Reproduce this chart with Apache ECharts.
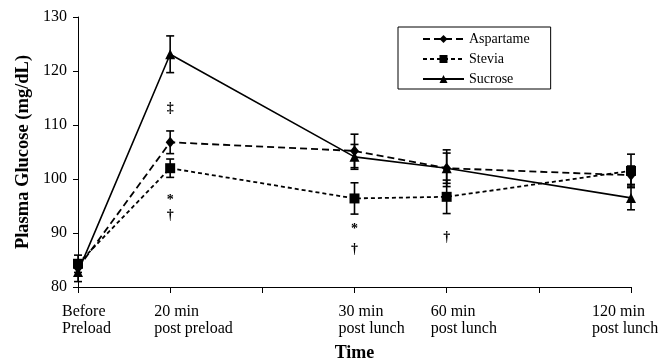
<!DOCTYPE html>
<html>
<head>
<meta charset="utf-8">
<script src="https://cdn.jsdelivr.net/npm/echarts@6/dist/echarts.min.js"></script>
<style>html,body{margin:0;padding:0;background:#fff}#c{width:670px;height:363px}</style>
</head>
<body>
<div id="c"></div>
<script>
const categories = ['Before\nPreload', '20 min\npost preload', '', '30 min\npost lunch', '60 min\npost lunch', '', '120 min\npost lunch'];
const timeIndex = [0, 1, 3, 4, 6];
const aspartame = [83.5, 106.8, 105.2, 102.0, 100.7];
const aspartameErr = [1.5, 2.1, 3.1, 3.4, 1.7];
const stevia = [84.3, 102.0, 96.4, 96.7, 101.5];
const steviaErr = [1.6, 1.7, 2.9, 3.1, 3.1];
const sucrose = [82.8, 123.1, 104.1, 102.0, 96.5];
const sucroseErr = [1.8, 3.4, 2.3, 2.8, 2.2];
const yTicks = [80, 90, 100, 110, 120, 130];
const annotIndex = [1, 1, 1, 3, 3, 4];
const annotValue = [113.1, 96.1, 93.3, 90.7, 86.9, 89.1];
const annotText = ['‡', '*', '†', '*', '†', '†'];

const FONT = '"Liberation Serif", "Times New Roman", serif';
const pts = vals => vals.map((v, i) => [timeIndex[i], v]);
const errs = (vals, e) => vals.map((v, i) => [timeIndex[i], v - e[i], v + e[i]]);

function errSeries(name, vals, e) {
  return {
    name: name + ' err', type: 'custom', z: 3, silent: true,
    data: errs(vals, e),
    renderItem: function (params, api) {
      const x = api.coord([api.value(0), api.value(1)])[0];
      const lo = api.coord([api.value(0), api.value(1)])[1];
      const hi = api.coord([api.value(0), api.value(2)])[1];
      const hw = 4;
      const st = { stroke: '#000', lineWidth: 1.6 };
      return { type: 'group', children: [
        { type: 'line', shape: { x1: x, y1: lo, x2: x, y2: hi }, style: st },
        { type: 'line', shape: { x1: x - hw, y1: lo, x2: x + hw, y2: lo }, style: st },
        { type: 'line', shape: { x1: x - hw, y1: hi, x2: x + hw, y2: hi }, style: st }
      ]};
    }
  };
}

const chart = echarts.init(document.getElementById('c'), null, { renderer: 'canvas' });
chart.setOption({
  animation: false,
  backgroundColor: '#fff',
  textStyle: { fontFamily: FONT, color: '#000' },
  grid: { left: 78, right: 39, top: 17, bottom: 76, containLabel: false, outerBoundsMode: 'none' },
  legend: {
    orient: 'vertical', left: 398, top: 27,
    padding: [5, 21, 3, 24],
    borderColor: '#000', borderWidth: 1,
    itemWidth: 41, itemHeight: 10, itemGap: 6,
    textStyle: { fontFamily: FONT, fontSize: 14, color: '#000' },
    data: ['Aspartame', 'Stevia', 'Sucrose']
  },
  xAxis: {
    type: 'category', data: categories, boundaryGap: false,
    name: 'Time', nameLocation: 'middle', nameGap: 57,
    nameTextStyle: { fontFamily: FONT, fontSize: 18, fontWeight: 'bold', color: '#000' },
    axisLine: { lineStyle: { color: '#000', width: 1 } },
    axisTick: { show: true, inside: false, length: 6, interval: 0, alignWithLabel: true, lineStyle: { color: '#000' } },
    axisLabel: {
      interval: 0, margin: 16, color: '#000', fontFamily: FONT, fontSize: 16, lineHeight: 17.5,
      formatter: function (value, idx) {
        const key = idx === 6 ? 'w' : 'n';
        return value.split('\n').map(s => '{' + key + '|' + s + '}').join('\n');
      },
      rich: {
        n: { width: 32, align: 'left', fontFamily: FONT, fontSize: 16, lineHeight: 17.5, color: '#000' },
        w: { width: 78, align: 'left', fontFamily: FONT, fontSize: 16, lineHeight: 17.5, color: '#000' }
      }
    },
    splitLine: { show: false }
  },
  yAxis: {
    type: 'value', min: yTicks[0], max: yTicks[yTicks.length - 1], interval: 10,
    name: 'Plasma Glucose (mg/dL)', nameLocation: 'middle', nameGap: 45, nameRotate: 90,
    nameMoveOverlap: false,
    nameTextStyle: { fontFamily: FONT, fontSize: 18.5, fontWeight: 'bold', color: '#000' },
    axisLine: { show: true, lineStyle: { color: '#000', width: 1 } },
    axisTick: { show: true, inside: false, length: 5, lineStyle: { color: '#000' } },
    axisLabel: { margin: 11, color: '#000', fontFamily: FONT, fontSize: 16 },
    splitLine: { show: false }
  },
  series: [
    errSeries('Aspartame', aspartame, aspartameErr),
    errSeries('Stevia', stevia, steviaErr),
    errSeries('Sucrose', sucrose, sucroseErr),
    {
      name: 'Aspartame', type: 'line', data: pts(aspartame), z: 4,
      symbol: 'diamond', symbolSize: [9, 11], showAllSymbol: true,
      itemStyle: { color: '#000' },
      lineStyle: { color: '#000', width: 1.8, type: [7, 4] }
    },
    {
      name: 'Stevia', type: 'line', data: pts(stevia), z: 4,
      symbol: 'rect', symbolSize: 10, showAllSymbol: true,
      itemStyle: { color: '#000' },
      lineStyle: { color: '#000', width: 1.8, type: [4, 3] }
    },
    {
      name: 'Sucrose', type: 'line', data: pts(sucrose), z: 4,
      symbol: 'triangle', symbolSize: 10, showAllSymbol: true,
      itemStyle: { color: '#000' },
      lineStyle: { color: '#000', width: 1.6, type: 'solid' }
    },
    {
      name: 'annotations', type: 'scatter', silent: true, symbolSize: 0, z: 5,
      itemStyle: { opacity: 1, color: '#000' },
      data: annotIndex.map((x, i) => ({ value: [x, annotValue[i]], label: { formatter: annotText[i] } })),
      label: { show: true, position: 'inside', color: '#000', opacity: 1, fontFamily: FONT, fontSize: 14, fontWeight: 'bold' }
    }
  ]
});
</script>
</body>
</html>
